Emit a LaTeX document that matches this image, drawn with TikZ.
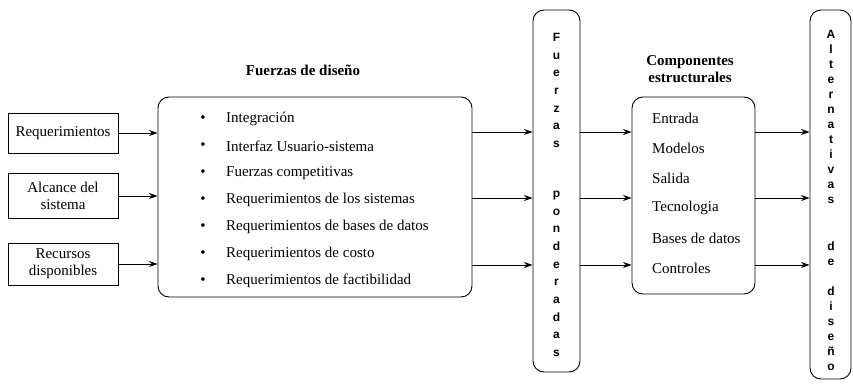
\documentclass[tikz,border=0pt]{standalone}
\usepackage{fontspec}
\setmainfont{Liberation Serif}
\newfontfamily\lettersf{Liberation Sans}
\usetikzlibrary{arrows.meta}
\begin{document}
\begin{tikzpicture}[x=1pt,y=-1pt,
  every node/.style={font=\fontsize{15}{17}\selectfont, inner sep=0pt},
  lbox/.style={draw, line width=0.9pt, minimum width=110pt, align=center},
  rbox/.style={draw, line width=0.9pt, rounded corners=11pt},
  arr/.style={-{Stealth[length=8.5pt,width=6pt]}, line width=0.9pt},
  itemtxt/.style={anchor=west},
  titletxt/.style={font=\bfseries\fontsize{15}{17}\selectfont, align=center},
  vletA/.style={font=\lettersf\bfseries\fontsize{12}{17.7}\selectfont, align=center, anchor=north},
  vletB/.style={font=\lettersf\bfseries\fontsize{12}{15}\selectfont, align=center, anchor=north}
]
\useasboundingbox (0,0) rectangle (853,387);

% levels of the connectors
\coordinate (lA) at (0,132);
\coordinate (lB) at (0,198);
\coordinate (lC) at (0,265);

% left boxes
\node[lbox, minimum height=40pt] (req) at (63,133) {Requerimientos};
\node[lbox, minimum height=45pt] (alc) at (63,196) {Alcance del\\sistema};
\node[lbox, minimum height=42pt] (rec) at (63,264) {Recursos\\disponibles};

% Fuerzas de diseno
\node[titletxt] (tfd) at (303,70) {Fuerzas de diseño};
\node[rbox, minimum width=314pt, minimum height=200pt] (fd) at (315,197) {};
\foreach \t [count=\i] in {Integración, Interfaz Usuario-sistema, Fuerzas competitivas,
  Requerimientos de los sistemas, Requerimientos de bases de datos,
  Requerimientos de costo, Requerimientos de factibilidad} {
  \node (b\i) at (203, 92+27*\i) {\textbullet};
  \node[itemtxt] (it\i) at (226, 92+27*\i) {\t};
}

% Fuerzas ponderadas
\node[rbox, minimum width=47pt, minimum height=362pt] (fp) at (556.5,191) {};
\node[vletA] (fpl) at (556.5,33) {F\\u\\e\\r\\z\\a\\s\\[32pt]p\\o\\n\\d\\e\\r\\a\\d\\a\\s};

% Componentes estructurales
\node[titletxt] (tce) at (690,69) {Componentes\\estructurales};
\node[rbox, minimum width=123pt, minimum height=197pt] (ce) at (693.5,195.5) {};
\foreach \t [count=\i] in {Entrada, Modelos, Salida, Tecnologia, Bases de datos, Controles} {
  \node[itemtxt] (ci\i) at (652, 88+30*\i) {\t};
}

% Alternativas de diseno
\node[rbox, minimum width=41pt, minimum height=369pt] (ad) at (830.5,194.5) {};
\node[vletB] (adl) at (831,30) {A\\l\\t\\e\\r\\n\\a\\t\\i\\v\\a\\s\\[32pt]d\\e\\[15pt]d\\i\\s\\e\\ñ\\o};

% connectors
\draw[arr] (req.east) -- (fd.west |- req.east);
\draw[arr] (alc.east) -- (fd.west |- alc.east);
\draw[arr] (rec.east) -- (fd.west |- rec.east);
\foreach \l in {lA,lB,lC} {
  \draw[arr] (fd.east |- \l) -- (fp.west |- \l);
  \draw[arr] (fp.east |- \l) -- (ce.west |- \l);
  \draw[arr] (ce.east |- \l) -- (ad.west |- \l);
}
\end{tikzpicture}
\end{document}
